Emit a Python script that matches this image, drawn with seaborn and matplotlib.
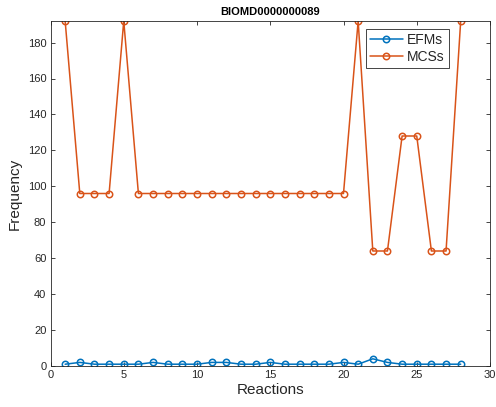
import matplotlib
matplotlib.use("Agg")
import matplotlib.pyplot as plt
import seaborn as sns
import pandas as pd

reactions = list(range(1, 29))
efms = [1, 2, 1, 1, 1, 1, 2, 1, 1, 1, 2, 2, 1, 1, 2, 1, 1, 1, 1, 2, 1, 4, 2, 1, 1, 1, 1, 1]
mcss = [192, 96, 96, 96, 192, 96, 96, 96, 96, 96, 96, 96, 96, 96, 96, 96, 96, 96, 96, 96,
        192, 64, 64, 128, 128, 64, 64, 192]
series_names = ["EFMs", "MCSs"]
colors = ["#0072BD", "#D95319"]

df = pd.DataFrame({"Reaction": reactions * 2,
                   "Frequency": efms + mcss,
                   "Series": [series_names[0]] * len(reactions) + [series_names[1]] * len(reactions)})

sns.set_theme(style="white")
plt.rcParams["font.family"] = ["Liberation Sans", "DejaVu Sans"]
axis_grey = "#262626"

fig = plt.figure(figsize=(4.96, 4.07), dpi=100)
ax = fig.add_axes([50.5 / 496, 41 / 407, 439.5 / 496, 345 / 407])

sns.lineplot(data=df, x="Reaction", y="Frequency", hue="Series", palette=colors,
             marker="o", markersize=4.6, markerfacecolor="none", markeredgewidth=1.1,
             linewidth=1.1, ax=ax, legend=True)
for line, c in zip(ax.lines, colors):
    line.set_markeredgecolor(c)

ax.set_xlim(0, 30)
ax.set_ylim(0, 192)
ax.set_xticks(range(0, 31, 5))
ax.set_yticks(range(0, 181, 20))
ax.tick_params(direction="in", length=3, width=0.6, colors=axis_grey, labelsize=8,
               top=True, right=True, bottom=True, left=True, pad=3)
for s in ax.spines.values():
    s.set_color(axis_grey)
    s.set_linewidth(0.6)

ax.set_xlabel("Reactions", fontsize=11, color=axis_grey, labelpad=2)
ax.set_ylabel("Frequency", fontsize=11, color=axis_grey, labelpad=4)
ax.set_title("BIOMD0000000089", fontsize=8, fontweight="bold", color="black", pad=4)

leg = ax.legend(loc="upper right", bbox_to_anchor=(0.913, 0.985), fontsize=10,
                frameon=True, fancybox=False, framealpha=1, edgecolor=axis_grey,
                handlelength=2.4, borderpad=0.3, labelspacing=0.2, handletextpad=0.3,
                borderaxespad=0.2)
leg.get_frame().set_linewidth(0.6)
for h, c in zip(leg.get_lines(), colors):
    h.set_markeredgecolor(c)
    h.set_markerfacecolor("none")
    h.set_markersize(4.6)

fig.savefig("out.png", dpi=100)
